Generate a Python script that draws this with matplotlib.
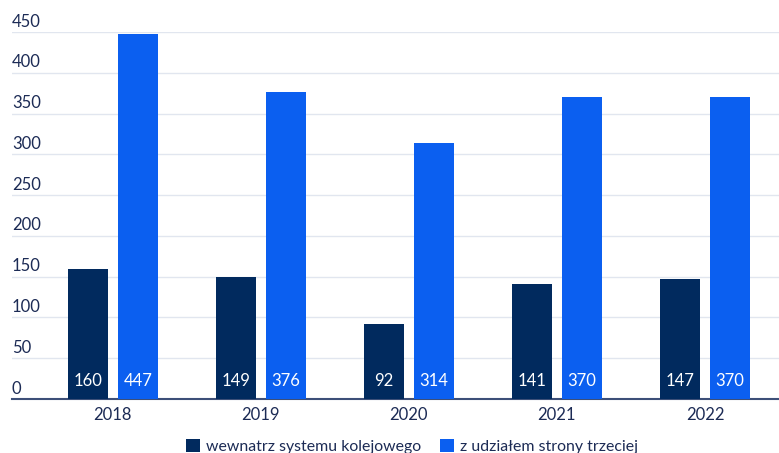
import numpy as np
import matplotlib.pyplot as plt

plt.rcParams['font.family'] = ['Lato', 'DejaVu Sans']

years = ['2018', '2019', '2020', '2021', '2022']
inside = [160, 149, 92, 141, 147]
third_party = [447, 376, 314, 370, 370]
yticks = [0, 50, 100, 150, 200, 250, 300, 350, 400, 450]

navy = '#012a5e'
blue = '#0b5ff0'
text_col = '#1c2b55'

fig = plt.figure(figsize=(7.79, 4.53), dpi=100)
ax = fig.add_axes([12 / 779, 54 / 453, 767 / 779, 367 / 453])

x = np.arange(len(years))
w = 0.27
off = 0.169
b1 = ax.bar(x - off, inside, w, color=navy, label='wewnatrz systemu kolejowego', zorder=3)
b2 = ax.bar(x + off, third_party, w, color=blue, label='z udziałem strony trzeciej', zorder=3)

for bars, vals in ((b1, inside), (b2, third_party)):
    for r, v in zip(bars, vals):
        ax.text(r.get_x() + r.get_width() / 2, 22, str(v), ha='center', va='center',
                color='white', fontsize=12, zorder=4)

ax.set_xlim(-0.68, 4.5)
ax.set_ylim(0, 450)
ax.set_yticks(yticks)
ax.yaxis.grid(True, color='#e1e6ef', linewidth=1, zorder=0)
ax.set_yticklabels([])
ax.tick_params(axis='y', length=0)
ax.tick_params(axis='x', length=0, pad=6, labelsize=12, labelcolor=text_col)
ax.set_xticks(x)
ax.set_xticklabels(years)

# y labels sit above their grid lines
tr = ax.get_yaxis_transform()
for v in yticks:
    ax.text(0, v + 3, str(v), transform=tr, ha='left', va='bottom',
            fontsize=12, color=text_col)

for s in ['top', 'right', 'left']:
    ax.spines[s].set_visible(False)
ax.spines['bottom'].set_color('#3d4f78')
ax.spines['bottom'].set_linewidth(1.5)

fig.legend(handles=[b1, b2], loc='center', bbox_to_anchor=(0.529, 0.015), ncol=2,
           frameon=False, fontsize=11.4, handlelength=0.88, handleheight=0.88,
           handletextpad=0.38, columnspacing=1.2, labelcolor=text_col)

fig.savefig('out.png', dpi=100)
